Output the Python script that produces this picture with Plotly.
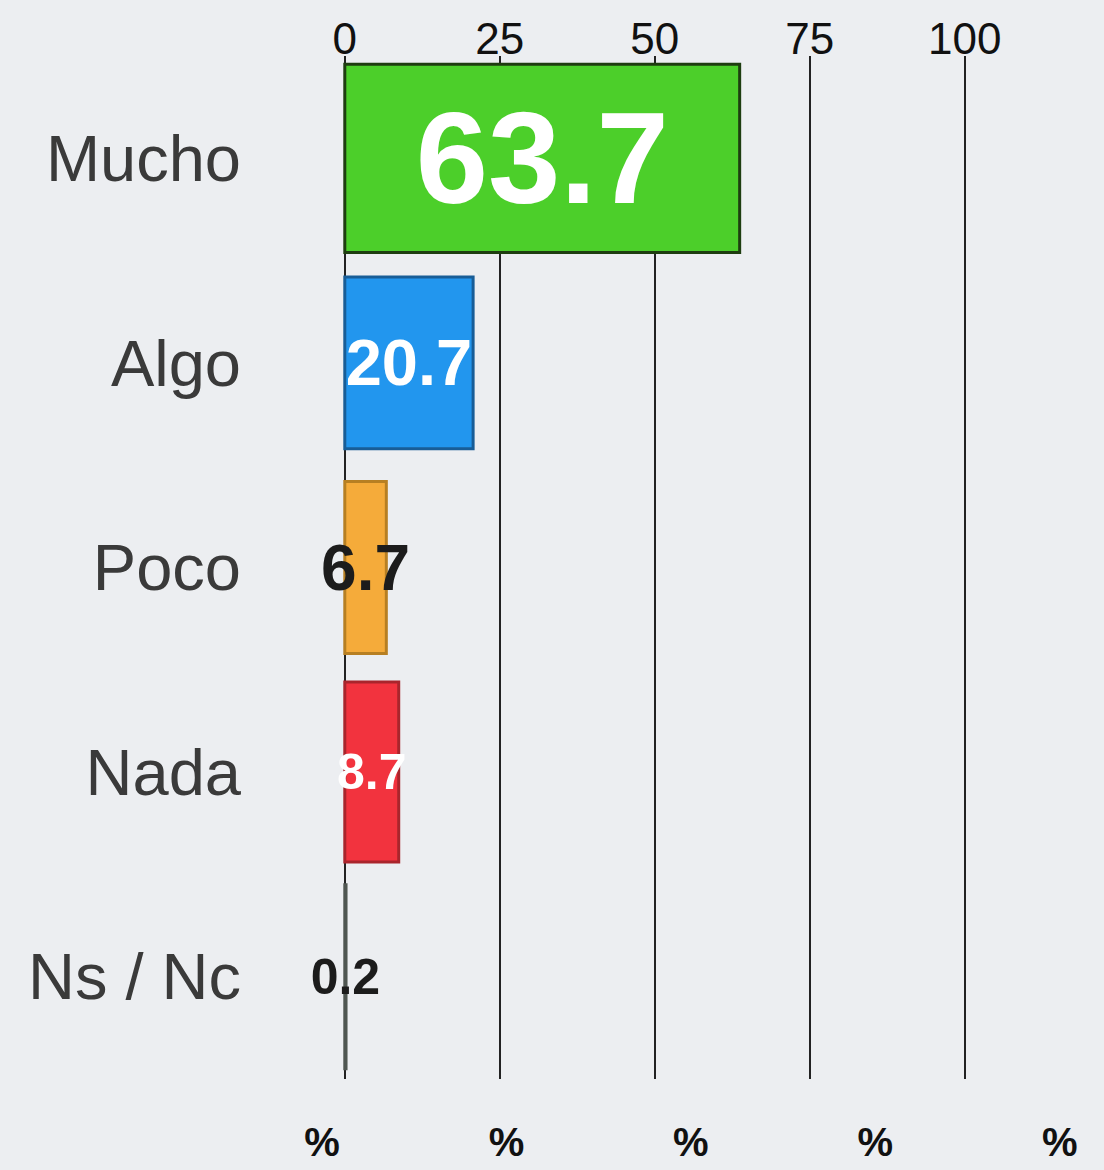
import plotly.graph_objects as go

categories = ["Mucho", "Algo", "Poco", "Nada", "Ns / Nc"]
values = [63.7, 20.7, 6.7, 8.7, 0.2]
value_labels = ["63.7", "20.7", "6.7", "8.7", "0.2"]
tick_values = [0, 25, 50, 75, 100]
tick_labels = ["0", "25", "50", "75", "100"]
unit_labels = ["%", "%", "%", "%", "%"]

bar_colors = ["#4ccf2a", "#2296ee", "#f5ab3a", "#f2333e", "#7f8983"]
edge_colors = ["#1e3d10", "#185d97", "#b77f22", "#a9252c", "#4f5651"]
text_colors = ["white", "white", "#1c1c1c", "white", "#1c1c1c"]
text_sizes = [130, 65, 64, 50, 50]
bar_widths = [0.92, 0.84, 0.84, 0.88, 0.9]

FONT = "Liberation Sans, Arial, sans-serif"

fig = go.Figure()
fig.add_trace(go.Bar(
    x=values, y=categories, orientation="h",
    width=bar_widths,
    marker=dict(color=bar_colors, line=dict(color=edge_colors, width=3)),
    text=value_labels, textposition="inside", insidetextanchor="middle",
    textangle=0, constraintext="none",
    textfont=dict(family=FONT, size=text_sizes, color=text_colors, weight="bold"),
    hoverinfo="skip", showlegend=False, cliponaxis=False,
))
# invisible trace to activate the bottom unit axis
fig.add_trace(go.Scatter(x=tick_values, y=[categories[0]] * len(tick_values),
                         xaxis="x2", yaxis="y", mode="markers",
                         marker=dict(opacity=0), hoverinfo="skip", showlegend=False))

fig.update_layout(
    width=1104, height=1170,
    margin=dict(l=289, r=14, t=56, b=91),
    paper_bgcolor="#eceef1", plot_bgcolor="rgba(0,0,0,0)",
    bargap=0.15,
    xaxis=dict(domain=[0, 0.89], range=[-9, 106], side="top",
               tickvals=tick_values, ticktext=tick_labels,
               tickfont=dict(family=FONT, size=44, color="#111"),
               showgrid=True, gridcolor="#222", gridwidth=1.5, automargin=False,
               zeroline=False, showline=False, ticks="", ticklabelstandoff=-8),
    xaxis2=dict(domain=[0, 1], range=[-4.47, 104.1], side="bottom", anchor="y",
                tickvals=tick_values, ticktext=unit_labels, automargin=False,
                tickfont=dict(family=FONT, size=40, color="#111", weight="bold"),
                showgrid=False, zeroline=False, showline=False, ticks="",
                ticklabelstandoff=36),
    yaxis=dict(autorange=False, range=[4.5, -0.5], type="category", automargin=False,
               tickfont=dict(family=FONT, size=65, color="#3a3a3a"),
               showgrid=False, zeroline=False, showline=False, ticks="",
               ticklabelstandoff=47),
)

fig.write_html(
    "out.html",
    config={"displayModeBar": False},
    post_script="document.body.style.margin='0';document.body.style.background='#eceef1';"
                "document.body.style.overflow='hidden';",
)
